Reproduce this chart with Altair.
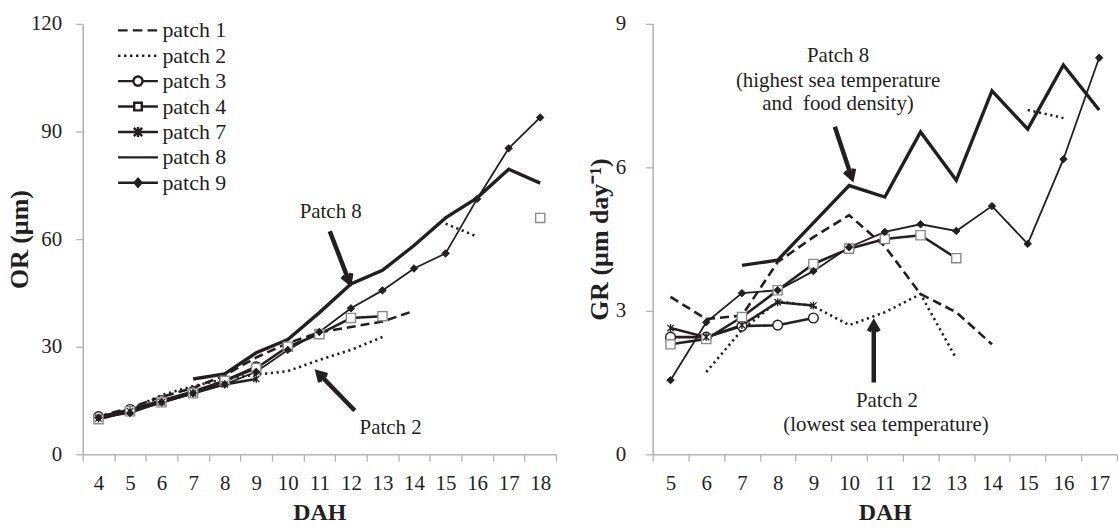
import math

import altair as alt
import pandas as pd

FONT = "Liberation Serif"
INK = "#231f20"
AXIS_GREY = "#b4b4b4"

PATCHES = ["patch 1", "patch 2", "patch 3", "patch 4", "patch 7", "patch 8", "patch 9"]

# Otolith radius (OR, µm) by days after hatching (DAH 4-18); None = no sample
or_dah = list(range(4, 19))
or_patch1 = [10.5, 13.0, 16.0, 18.5, 22.0, 27.0, 31.0, 34.0, 35.5, 37.0, 40.0, None, None, None, None]
or_patch2 = [10.0, 12.5, 16.5, 19.0, 21.0, 22.2, 23.2, 26.3, 29.1, 32.7, None, 64.3, 60.7, None, None]
or_patch3 = [10.5, 12.5, 15.0, 17.5, 20.5, 24.4, None, None, None, None, None, None, None, None, None]
or_patch4 = [9.8, 12.0, 14.5, 17.0, 20.5, 24.0, 30.0, 33.5, 38.0, 38.5, None, None, None, None, 65.9]
or_patch7 = [10.0, 12.0, 14.5, 17.0, 19.5, 21.0, None, None, None, None, None, None, None, None, None]
or_patch8 = [None, None, None, 21.0, 22.4, 28.3, 32.0, 39.5, 47.5, 51.3, 58.2, 65.9, 71.5, 79.5, 75.6]
or_patch9 = [10.2, 11.5, 14.5, 17.0, 19.5, 23.0, 29.1, 34.1, 40.7, 45.7, 51.8, 56.0, 71.2, 85.3, 93.9]

# Growth rate (GR, µm day-1) by DAH 5-17
gr_dah = list(range(5, 18))
gr_patch1 = [3.29, 2.83, 2.90, 4.02, 4.54, 5.00, 4.35, 3.35, 2.97, 2.30, None, None, None]
gr_patch2 = [None, 1.72, 2.60, 3.20, 3.10, 2.70, 2.97, 3.35, 2.00, None, 7.20, 7.03, None]
gr_patch3 = [2.45, 2.45, 2.68, 2.70, 2.85, None, None, None, None, None, None, None, None]
gr_patch4 = [2.30, 2.41, 2.87, 3.43, 3.98, 4.30, 4.50, 4.58, 4.10, None, None, None, None]
gr_patch7 = [2.64, 2.45, 2.70, 3.18, 3.11, None, None, None, None, None, None, None, None]
gr_patch8 = [None, None, 3.95, 4.06, 4.84, 5.62, 5.38, 6.74, 5.73, 7.60, 6.80, 8.14, 7.20]
gr_patch9 = [1.55, 2.76, 3.37, 3.43, 3.83, 4.33, 4.65, 4.81, 4.67, 5.19, 4.40, 6.17, 8.29]

or_series = dict(zip(PATCHES, [or_patch1, or_patch2, or_patch3, or_patch4, or_patch7, or_patch8, or_patch9]))
gr_series = dict(zip(PATCHES, [gr_patch1, gr_patch2, gr_patch3, gr_patch4, gr_patch7, gr_patch8, gr_patch9]))

# Annotation texts and arrows (x in DAH units, y in axis units)
or_notes = pd.DataFrame({"x": [11.36, 13.26], "y": [67.5, 7.2], "label": ["Patch 8", "Patch 2"]})
or_arrows = pd.DataFrame({"x0": [11.33, 12.12], "y0": [62.2, 12.2], "x1": [11.96, 10.95], "y1": [47.8, 22.8]})
gr_notes = pd.DataFrame({
    "x": [9.69, 9.69, 9.69, 11.06, 11.03],
    "y": [8.33, 7.81, 7.33, 1.12, 0.62],
    "label": ["Patch 8", "(highest sea temperature", "and\u00a0 food density)",
              "Patch 2", "(lowest sea temperature)"],
})
gr_arrows = pd.DataFrame({"x0": [9.60, 10.69], "y0": [6.85, 1.50], "x1": [10.08, 10.69], "y1": [5.77, 2.75]})

LINE_STYLE = {
    "patch 1": {"strokeWidth": 2.6, "strokeDash": [9, 5]},
    "patch 2": {"strokeWidth": 2.6, "strokeDash": [2.2, 3.6]},
    "patch 3": {"strokeWidth": 2.6},
    "patch 4": {"strokeWidth": 2.6},
    "patch 7": {"strokeWidth": 2.6},
    "patch 8": {"strokeWidth": 3.4},
    "patch 9": {"strokeWidth": 1.8},
}

ASTERISK = "M-1,-1L1,1M-1,1L1,-1M0,-1.25L0,1.25"
MARKER_STYLE = {
    "patch 3": dict(shape="circle", size=95, filled=True, fill="white", stroke=INK, strokeWidth=1.4),
    "patch 4": dict(shape="square", size=85, filled=True, fill="white", stroke="#8a8a8a", strokeWidth=1.4),
    "patch 7": dict(shape=ASTERISK, size=40, filled=False, stroke=INK, strokeWidth=1.3),
    "patch 9": dict(shape="diamond", size=55, filled=True, fill=INK, stroke=INK, strokeWidth=1),
}

# Legend glyphs: a 40 px line sample plus marker (unit = 10 px at symbolSize 400)
LEGEND_GLYPH = {
    "patch 1": "M-2,0H-1.04M-0.52,0H0.44M0.96,0H1.92",
    "patch 2": "M-2,0H-1.76M-1.4,0H-1.16M-0.8,0H-0.56M-0.2,0H0.04M0.4,0H0.64M1,0H1.24M1.6,0H1.84",
    "patch 3": "M-2,0H-0.46M0.46,0H2M0.46,0A0.46,0.46 0 1,1 -0.46,0A0.46,0.46 0 1,1 0.46,0Z",
    "patch 4": "M-2,0H-0.38M0.38,0H2M-0.38,-0.38H0.38V0.38H-0.38Z",
    "patch 7": "M-2,0H2M-0.42,-0.42L0.42,0.42M-0.42,0.42L0.42,-0.42M0,-0.5V0.5",
    "patch 8": "M-2,0H2",
    "patch 9": "M-2,0H2M0,-0.4L0.34,0L0,0.4L-0.34,0Z",
}
LEGEND_FILL = {"patch 3": "white", "patch 4": "white", "patch 9": INK}

CHEVRON = "M-0.55,0.95L0,0L0.55,0.95"


def long_table(dah, series):
    rows = []
    for patch, values in series.items():
        seg = 0
        for d, v in zip(dah, values):
            if v is None:
                seg += 1
                continue
            rows.append({"DAH": d, "value": v, "patch": patch, "seg": f"{patch}-{seg}"})
    return pd.DataFrame(rows)


def arrow_heads(arrows, px_x, px_y):
    heads = arrows.copy()
    dx = (heads["x1"] - heads["x0"]) * px_x
    dy = -(heads["y1"] - heads["y0"]) * px_y
    heads["angle"] = [math.degrees(math.atan2(a, -b)) % 360 for a, b in zip(dx, dy)]
    return heads


def panel(dah, series, y_max, y_step, y_title, width, height, notes, arrows,
          label_pad, title_x, legend=False):
    data = long_table(dah, series)
    lo, hi = dah[0] - 0.5, dah[-1] + 0.5
    x_enc = alt.X(
        "DAH:O",
        bandPosition=0.5,
        scale=alt.Scale(type="band", domain=dah, paddingInner=0, paddingOuter=0),
        axis=alt.Axis(title="DAH", tickBand="extent", labelAngle=0, tickSize=7,
                      labelPadding=11, titlePadding=7, titleFontSize=24),
    )
    y_scale = alt.Scale(domain=[0, y_max], nice=False)
    y_enc = alt.Y(
        "value:Q",
        scale=y_scale,
        axis=alt.Axis(title=y_title, values=list(range(0, y_max + 1, y_step)), format="d",
                      tickSize=7, labelPadding=label_pad, titleX=title_x, titleFontSize=26),
    )
    layers = []
    for p in PATCHES:
        sub = data[data["patch"] == p]
        layers.append(
            alt.Chart(sub).mark_line(color=INK, strokeCap="butt", strokeJoin="miter", **LINE_STYLE[p])
            .encode(x=x_enc, y=y_enc, detail="seg:N")
        )
    for p, style in MARKER_STYLE.items():
        sub = data[data["patch"] == p]
        layers.append(alt.Chart(sub).mark_point(opacity=1, **style).encode(x=x_enc, y=y_enc))

    if legend:
        leg = alt.Legend(
            title=None, orient="none", legendX=44, legendY=-5, labelFont=FONT, labelFontSize=22,
            labelColor=INK, symbolSize=400, symbolStrokeWidth=2.4, symbolStrokeColor=INK,
            symbolOpacity=1, rowPadding=2.5, labelOffset=13, padding=0,
        )
        legend_df = pd.DataFrame({"patch": PATCHES})
        layers.append(
            alt.Chart(legend_df).mark_point(opacity=0, strokeWidth=2.4).encode(
                shape=alt.Shape("patch:N", legend=leg,
                                scale=alt.Scale(domain=PATCHES, range=[LEGEND_GLYPH[p] for p in PATCHES])),
                fill=alt.Fill("patch:N", legend=leg,
                              scale=alt.Scale(domain=PATCHES,
                                              range=[LEGEND_FILL.get(p, "transparent") for p in PATCHES])),
                stroke=alt.Stroke("patch:N", legend=leg,
                                  scale=alt.Scale(domain=PATCHES, range=[INK] * len(PATCHES))),
            )
        )

    ann_scale = alt.Scale(domain=[lo, hi], nice=False, zero=False)
    text = alt.Chart(notes).mark_text(font=FONT, fontSize=21, color=INK, align="center", baseline="middle").encode(
        x=alt.X("x:Q", scale=ann_scale, axis=None), y=alt.Y("y:Q", scale=y_scale), text="label:N")
    shafts = alt.Chart(arrows).mark_rule(color=INK, strokeWidth=4.5, strokeCap="butt").encode(
        x=alt.X("x0:Q", scale=ann_scale, axis=None), y=alt.Y("y0:Q", scale=y_scale), x2="x1:Q", y2="y1:Q")
    heads_df = arrow_heads(arrows, width / (hi - lo), height / y_max)
    heads = alt.Chart(heads_df).mark_point(shape=CHEVRON, size=330, filled=False, stroke=INK, strokeWidth=4.5,
                                           strokeJoin="miter", opacity=1).encode(
        x=alt.X("x1:Q", scale=ann_scale, axis=None), y=alt.Y("y1:Q", scale=y_scale),
        angle=alt.Angle("angle:Q", scale=None))
    notes_layer = alt.layer(text, shafts, heads)

    return alt.layer(alt.layer(*layers), notes_layer).resolve_scale(x="independent").properties(
        width=width, height=height)


left = panel(or_dah, or_series, 120, 30, "OR (µm)", 475, 432, or_notes, or_arrows,
             label_pad=14, title_x=-50, legend=True)
right = panel(gr_dah, gr_series, 9, 3, "GR (µm day⁻¹)", 466, 432, gr_notes, gr_arrows,
              label_pad=20, title_x=-40)

chart = (
    alt.hconcat(left, right, spacing=30)
    .properties(padding={"left": 7, "top": 12, "right": 0, "bottom": 0})
    .configure_view(stroke=None)
    .configure_axis(
        grid=False, domainColor=AXIS_GREY, domainWidth=1.6, tickColor=AXIS_GREY, tickWidth=1.3,
        labelFont=FONT, labelFontSize=21, labelColor=INK,
        titleFont=FONT, titleFontWeight="bold", titleColor=INK,
    )
)

chart.save("out.html", embed_options={"renderer": "svg", "actions": False})
